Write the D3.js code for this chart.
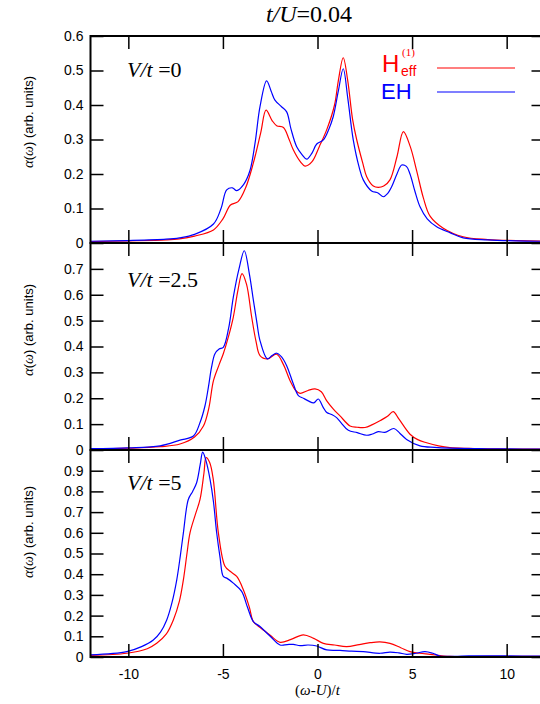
<!DOCTYPE html>
<html><head><meta charset="utf-8">
<script src="https://cdn.jsdelivr.net/npm/d3@7"></script>
<style>body{margin:0;background:#fff}</style>
</head><body>
<svg id="c" width="540" height="704"></svg>
<script>
// ---------- data ----------
const xTicks = [-10, -5, 0, 5, 10];
const yTicksA = [0, 0.1, 0.2, 0.3, 0.4, 0.5, 0.6];
const yTicksB = [0, 0.1, 0.2, 0.3, 0.4, 0.5, 0.6, 0.7];
const yTicksC = [0, 0.1, 0.2, 0.3, 0.4, 0.5, 0.6, 0.7, 0.8, 0.9];
const panelValues = ["0", "2.5", "5"];

// V/t = 0
const xRedA = [-12,-10,-8,-7.3,-6.5,-5.5,-5.0,-4.6,-4.2,-3.8,-3.4,-3.0,-2.72,-2.4,-2.16,-1.8,-1.5,-1.28,-0.9,-0.66,-0.3,0.1,0.5,0.9,1.1,1.36,1.6,1.85,2.07,2.4,2.6,2.95,3.21,3.5,3.83,4.2,4.54,4.9,5.24,5.6,5.95,6.65,7.7,9,10.5,12];
const yRedA = [0.004,0.006,0.009,0.012,0.02,0.038,0.07,0.11,0.12,0.16,0.23,0.32,0.385,0.355,0.34,0.335,0.30,0.27,0.235,0.223,0.235,0.28,0.33,0.40,0.47,0.537,0.47,0.36,0.30,0.23,0.192,0.165,0.161,0.165,0.183,0.25,0.323,0.28,0.21,0.13,0.078,0.043,0.018,0.01,0.007,0.005];
const xBlueA = [-12,-10,-8,-7.3,-6.5,-5.5,-5.1,-4.8,-4.5,-4.27,-3.9,-3.57,-3.3,-3.04,-2.69,-2.45,-2.25,-1.9,-1.63,-1.4,-1.1,-0.8,-0.57,-0.3,-0.04,0.31,0.6,0.83,1.1,1.36,1.6,1.89,2.2,2.42,2.86,3.2,3.48,3.7,3.92,4.2,4.45,4.7,4.89,5.15,5.42,5.8,6.3,7,7.7,9,10.5,12];
const yBlueA = [0.005,0.007,0.011,0.015,0.025,0.055,0.1,0.154,0.16,0.152,0.17,0.21,0.29,0.395,0.47,0.44,0.414,0.395,0.38,0.33,0.279,0.255,0.243,0.26,0.287,0.299,0.33,0.366,0.44,0.505,0.42,0.299,0.22,0.183,0.151,0.145,0.134,0.143,0.163,0.2,0.226,0.222,0.2,0.15,0.105,0.07,0.047,0.03,0.015,0.009,0.006,0.005];

// V/t = 2.5
const xRedB = [-12,-10,-8.3,-7.27,-6.5,-6.03,-5.75,-5.5,-5.2,-4.98,-4.7,-4.45,-4.2,-3.99,-3.75,-3.48,-3.25,-3.04,-2.65,-2.16,-1.8,-1.45,-1.15,-0.92,-0.5,-0.13,0.2,0.49,0.84,1.19,1.72,2.1,2.51,2.9,3.3,3.7,4.0,4.3,4.89,5.3,5.77,6.4,7,8,9.6,12];
const yRedB = [0.004,0.007,0.013,0.023,0.05,0.093,0.16,0.268,0.33,0.372,0.44,0.514,0.62,0.682,0.64,0.514,0.42,0.365,0.352,0.37,0.33,0.268,0.23,0.219,0.23,0.236,0.225,0.19,0.158,0.132,0.093,0.088,0.087,0.098,0.113,0.13,0.148,0.12,0.061,0.04,0.028,0.016,0.009,0.006,0.004,0.003];
const xBlueB = [-12,-10,-8.32,-7.27,-6.56,-6.21,-5.95,-5.77,-5.6,-5.42,-5.2,-4.98,-4.7,-4.45,-4.15,-3.87,-3.6,-3.39,-3.2,-3.04,-2.65,-2.4,-2.16,-1.9,-1.63,-1.3,-1.01,-0.75,-0.49,-0.2,0.04,0.3,0.49,0.75,1.01,1.25,1.63,2.1,2.6,2.9,3.21,3.56,4.04,4.35,4.71,5.42,6.2,7,8.5,10,12];
const yBlueB = [0.005,0.008,0.016,0.038,0.054,0.106,0.17,0.242,0.32,0.372,0.39,0.397,0.47,0.591,0.70,0.77,0.68,0.579,0.49,0.423,0.352,0.365,0.374,0.36,0.326,0.26,0.21,0.2,0.19,0.182,0.197,0.165,0.145,0.137,0.125,0.105,0.076,0.067,0.057,0.062,0.071,0.068,0.083,0.065,0.041,0.016,0.01,0.007,0.005,0.004,0.003];

// V/t = 5
const xRedC = [-12,-10.08,-9,-8.5,-8,-7.62,-7.3,-7.09,-6.9,-6.74,-6.45,-6.21,-6.0,-5.89,-5.7,-5.51,-5.24,-4.89,-4.62,-4.27,-3.92,-3.6,-3.39,-3.0,-2.5,-1.98,-1.4,-0.75,-0.2,0.31,0.9,1.54,2.2,2.78,3.3,3.83,4.4,4.89,5.4,5.95,7,9,12];
const yRedC = [0.008,0.018,0.04,0.066,0.11,0.179,0.27,0.373,0.5,0.6,0.69,0.761,0.89,0.963,0.94,0.858,0.6,0.438,0.414,0.389,0.325,0.24,0.171,0.14,0.105,0.071,0.085,0.107,0.09,0.066,0.058,0.05,0.06,0.069,0.073,0.066,0.045,0.026,0.018,0.013,0.003,0.003,0.003];
const xBlueC = [-12,-10.08,-9.3,-8.68,-8.3,-7.97,-7.7,-7.44,-7.25,-7.09,-6.83,-6.6,-6.39,-6.2,-6.07,-5.9,-5.68,-5.5,-5.33,-5.15,-4.98,-4.8,-4.45,-4.01,-3.7,-3.39,-3.04,-2.5,-1.98,-1.6,-1.28,-0.92,-0.5,-0.04,0.49,1.19,1.8,2.42,3.3,3.83,4.3,4.71,5.2,5.68,6.1,6.47,8,10,12];
const yBlueC = [0.01,0.026,0.05,0.082,0.12,0.179,0.26,0.373,0.49,0.6,0.761,0.8,0.842,0.93,0.99,0.95,0.858,0.75,0.6,0.48,0.389,0.381,0.357,0.317,0.24,0.171,0.147,0.1,0.058,0.06,0.061,0.055,0.058,0.053,0.034,0.032,0.028,0.026,0.018,0.024,0.02,0.013,0.018,0.026,0.018,0.005,0.005,0.005,0.004];

// ---------- drawing ----------
const RED = "#ff0000", BLUE = "#0000ff";
const SANS = "'Liberation Sans', Arial, sans-serif";
const SERIF = "'Liberation Serif', 'Times New Roman', serif";
const svg = d3.select("#c");
const L = 90.5, R = 544.5;
const x = d3.scaleLinear().domain([-12, 12]).range([L, R]);

const panels = [
  {top: 36, bottom: 243, max: 0.6, ticks: yTicksA, red: [xRedA, yRedA], blue: [xBlueA, yBlueA], ylabC: 122, labY: 77, val: panelValues[0]},
  {top: 243, bottom: 450, max: 0.8, ticks: yTicksB, red: [xRedB, yRedB], blue: [xBlueB, yBlueB], ylabC: 330, labY: 287, val: panelValues[1]},
  {top: 450, bottom: 657, max: 1.0, ticks: yTicksC, red: [xRedC, yRedC], blue: [xBlueC, yBlueC], ylabC: 532, labY: 490, val: panelValues[2]}
];

const defs = svg.append("defs");
panels.forEach((p, i) => {
  const y = d3.scaleLinear().domain([0, p.max]).range([p.bottom, p.top]);
  defs.append("clipPath").attr("id", "clip" + i)
    .append("rect").attr("x", L).attr("y", p.top).attr("width", R - L).attr("height", p.bottom - p.top);
  const g = svg.append("g");
  const line = d3.line().x(d => x(d[0])).y(d => y(d[1])).curve(d3.curveCatmullRom.alpha(0.5));
  const toPts = s => s[0].map((v, k) => [v, s[1][k]]);
  g.append("path").attr("d", line(toPts(p.red))).attr("fill", "none").attr("stroke", RED)
    .attr("stroke-width", 1.2).attr("clip-path", `url(#clip${i})`);
  g.append("path").attr("d", line(toPts(p.blue))).attr("fill", "none").attr("stroke", BLUE)
    .attr("stroke-width", 1.2).attr("clip-path", `url(#clip${i})`);

  // y ticks (left & right, inward)
  const yl = d3.axisLeft(y).tickValues(p.ticks).tickSize(-13).tickPadding(20)
    .tickFormat(t => t === 0 ? "0" : d3.format(".1f")(t));
  const ya = g.append("g").attr("transform", `translate(${L},0)`).call(yl);
  ya.select(".domain").remove();
  ya.selectAll(".tick line").attr("stroke", "#000").attr("stroke-width", 1.5);
  ya.selectAll(".tick text").attr("x", -7).attr("font-family", SANS).attr("font-size", 14).attr("fill", "#000");
  const yr = d3.axisRight(y).tickValues(p.ticks).tickSize(-13).tickFormat("");
  const yb = g.append("g").attr("transform", `translate(${R},0)`).call(yr);
  yb.select(".domain").remove();
  yb.selectAll(".tick line").attr("stroke", "#000").attr("stroke-width", 1.5);

  // x ticks (top & bottom, inward)
  const xb = d3.axisBottom(x).tickValues(xTicks).tickSize(-13).tickFormat("");
  const xa = g.append("g").attr("transform", `translate(0,${p.bottom})`).call(xb);
  xa.select(".domain").remove();
  xa.selectAll(".tick line").attr("stroke", "#000").attr("stroke-width", 1.5);
  const xt = d3.axisTop(x).tickValues(xTicks).tickSize(-13).tickFormat("");
  const xc = g.append("g").attr("transform", `translate(0,${p.top})`).call(xt);
  xc.select(".domain").remove();
  xc.selectAll(".tick line").attr("stroke", "#000").attr("stroke-width", 1.5);

  // frame
  g.append("rect").attr("x", L).attr("y", p.top).attr("width", R - L).attr("height", p.bottom - p.top)
    .attr("fill", "none").attr("stroke", "#000").attr("stroke-width", 2);

  // panel label
  const t = g.append("text").attr("x", 127).attr("y", p.labY).attr("font-family", SERIF)
    .attr("font-size", 22).attr("fill", "#000");
  t.append("tspan").attr("font-style", "italic").text("V/t");
  t.append("tspan").text(" =" + p.val);

  // y-axis title
  const yt = g.append("text").attr("transform", `translate(33,${p.ylabC}) rotate(-90)`)
    .attr("text-anchor", "middle").attr("font-family", SANS).attr("font-size", 13).attr("fill", "#000");
  yt.append("tspan").attr("font-family", SERIF).attr("font-style", "italic").attr("font-size", 15).text("α");
  yt.append("tspan").text("(");
  yt.append("tspan").attr("font-family", SERIF).attr("font-style", "italic").attr("font-size", 14).text("ω");
  yt.append("tspan").text(") (arb. units)");
});

// x tick labels (bottom panel)
const xLab = svg.append("g").attr("transform", `translate(0,657)`)
  .call(d3.axisBottom(x).tickValues(xTicks).tickSize(0).tickPadding(12).tickFormat(d => d < 0 ? "-" + Math.abs(d) : String(d)));
xLab.select(".domain").remove();
xLab.selectAll("text").attr("font-family", SANS).attr("font-size", 14).attr("fill", "#000");

// x-axis title
const xtitle = svg.append("text").attr("x", x(0)).attr("y", 695).attr("text-anchor", "middle")
  .attr("font-family", SERIF).attr("font-size", 15).attr("fill", "#000");
xtitle.append("tspan").text("(");
xtitle.append("tspan").attr("font-style", "italic").text("ω");
xtitle.append("tspan").text("-");
xtitle.append("tspan").attr("font-style", "italic").text("U");
xtitle.append("tspan").text(")/");
xtitle.append("tspan").attr("font-style", "italic").text("t");

// title
const title = svg.append("text").attr("x", 309).attr("y", 22).attr("text-anchor", "middle")
  .attr("font-family", SERIF).attr("font-size", 24).attr("fill", "#000");
title.append("tspan").attr("font-style", "italic").text("t/U");
title.append("tspan").text("=0.04");

// legend
const leg = svg.append("g");
leg.append("text").attr("x", 382).attr("y", 72).attr("font-family", SANS).attr("font-size", 24).attr("fill", RED).text("H");
leg.append("text").attr("x", 401).attr("y", 76).attr("font-family", SANS).attr("font-size", 14).attr("fill", RED).text("eff");
leg.append("text").attr("x", 402).attr("y", 56).attr("font-family", SERIF).attr("font-size", 11).attr("fill", RED).text("(1)");
leg.append("line").attr("x1", 437).attr("x2", 515).attr("y1", 68).attr("y2", 68).attr("stroke", RED).attr("stroke-width", 1.2);
leg.append("text").attr("x", 381).attr("y", 99).attr("font-family", SANS).attr("font-size", 22).attr("fill", BLUE).text("EH");
leg.append("line").attr("x1", 437).attr("x2", 515).attr("y1", 92).attr("y2", 92).attr("stroke", BLUE).attr("stroke-width", 1.2);
</script>
</body></html>
